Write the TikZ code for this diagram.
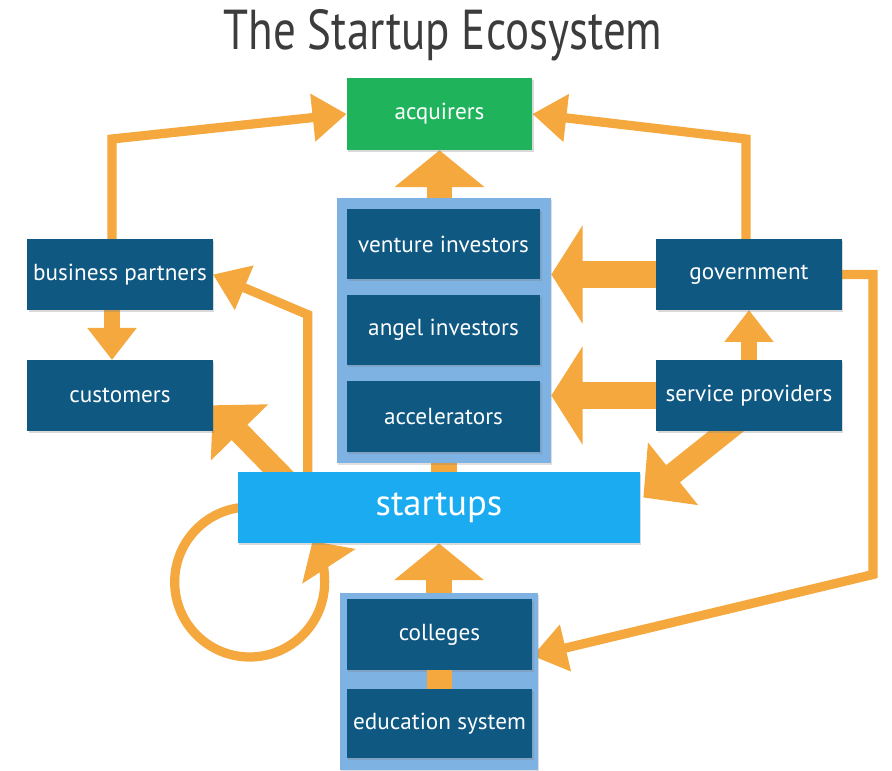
\documentclass[tikz,border=0pt]{standalone}
\usepackage{fontspec}
\setmainfont{PT Sans}
\usetikzlibrary{arrows.meta,calc,shadows,backgrounds}
\definecolor{boxblue}{RGB}{14,88,130}
\definecolor{holdblue}{RGB}{126,178,226}
\definecolor{startblue}{RGB}{27,171,240}
\definecolor{acqgreen}{RGB}{31,180,92}
\definecolor{arrorange}{RGB}{245,168,62}
\definecolor{titlegray}{RGB}{60,60,60}

\begin{document}
\begin{tikzpicture}[x=0.025cm, y=0.025cm,
% common options for the boxes:
box/.style = {rectangle, fill=boxblue, text=white, minimum width=4.63cm,
            minimum height=1.76cm, inner sep=0, font=\fontsize{16.5}{19}\selectfont,
            drop shadow={shadow xshift=1pt, shadow yshift=-1.5pt, opacity=0.3}},
holder/.style = {rectangle, fill=holdblue, inner sep=0,
            drop shadow={shadow xshift=1pt, shadow yshift=-1.5pt, opacity=0.25}},
% common options for the arrows:
thinarrow/.style = {draw=arrorange, line width=0.23cm, -{Triangle[width=1.15cm,length=0.85cm]}},
midarrow/.style = {draw=arrorange, line width=0.63cm, -{Triangle[width=2.2cm,length=0.92cm]}},
widearrow/.style = {draw=arrorange, line width=0.68cm, -{Triangle[width=2.42cm,length=0.78cm]}},
smallarrow/.style = {draw=arrorange, line width=0.38cm, -{Triangle[width=1.18cm,length=0.8cm]}},
slantarrow/.style = {draw=arrorange, line width=0.55cm, -{Triangle[width=1.95cm,length=0.95cm]}},
link/.style = {draw=arrorange, line width=0.63cm}]
\useasboundingbox (0,0) rectangle (892,770);
\node[text=titlegray, font=\fontsize{32}{38}\selectfont] (title) at (443,735)
  {\scalebox{1}[1.25]{The Startup Ecosystem}};
\node[box, fill=acqgreen, minimum height=1.8cm] (acq) at (439.5,656) {acquirers};
\node[holder, minimum width=5.35cm, minimum height=6.63cm] (invbg) at (444,439.5) {};
\node[box, minimum width=4.83cm] (vc) at (443.5,526) {venture investors};
\node[box, minimum width=4.83cm] (ang) at (443.5,440) {angel investors};
\node[box, minimum width=4.83cm] (acc) at (443.5,353.5) {accelerators};
\node[box] (bp) at (120,495.5) {business partners};
\node[box] (cust) at (120,374.5) {customers};
\node[box] (gov) at (749,495.5) {government};
\node[box] (sp) at (749,374.5) {service providers};
\node[box, fill=startblue, minimum width=10.05cm, minimum height=1.78cm,
  font=\fontsize{26}{30}\selectfont] (st) at (439,262.5) {startups};
\node[holder, minimum width=4.95cm, minimum height=4.43cm] (edbg) at (439,88.5) {};
\node[box] (col) at (439.5,135.5) {colleges};
\node[box, minimum height=1.73cm] (edu) at (439.5,46.5) {education system};
\begin{scope}[on background layer]
% thin lines
\draw[thinarrow] ($(bp.north)+(-8,0)$) -- ++(0,100) -- (acq.west);
\draw[thinarrow] ($(gov.north)+(-3,0)$) -- ++(0,100) -- (acq.east);
\draw[thinarrow] ($(st.north west)+(70,-10)$) -- ++(0,167) -- (bp.east);
\draw[thinarrow] (gov.east) -- ++(31,0) -- ++(0,-300) -- (col.-13);
\draw[thinarrow, -{Triangle[width=1.55cm,length=0.75cm]}] ($(st.west)+(12,0.5)$)
  arc[start angle=90, end angle=393, radius=75];
% fat arrows
\draw[midarrow] (acq.south |- invbg.north) -- (acq.south);
\draw[midarrow] (edbg.north) -- (edbg.north |- st.south);
\draw[widearrow] (gov.west) -- (gov.west -| invbg.east);
\draw[widearrow] (sp.west) -- (sp.west -| invbg.east);
\draw[smallarrow] (sp.north) -- (gov.south);
\draw[smallarrow] ($(bp.south)+(-8,0)$) -- ($(cust.north)+(-8,0)$);
\draw[slantarrow] ($(sp.south)+(-10,10)$) -- ($(st.east)+(3,10)$);
\draw[slantarrow] ($(st.north west)+(50,-10)$) -- (cust.-6);
\draw[link] (invbg.south) -- (invbg.south |- st.north);
\end{scope}
\draw[link] (col.south) -- (edu.north);
\end{tikzpicture}
\end{document}
